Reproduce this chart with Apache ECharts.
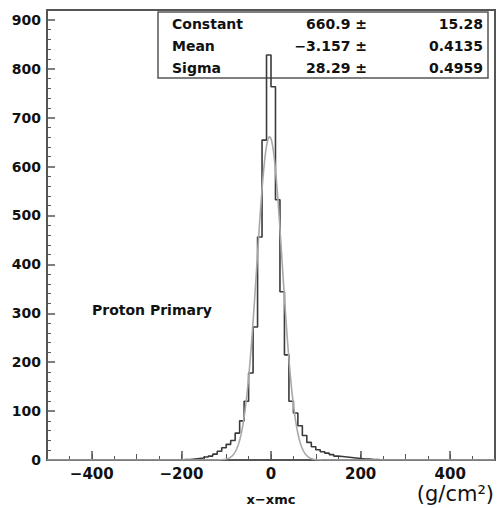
<!DOCTYPE html>
<html>
<head>
<meta charset="utf-8">
<script src="https://cdn.jsdelivr.net/npm/echarts@6/dist/echarts.min.js"></script>
<style>
  html, body { margin: 0; padding: 0; background: #ffffff; }
  #chart { width: 497px; height: 508px; }
</style>
</head>
<body>
<div id="chart"></div>
<script>
// Axis ranges and binning
const xMin = -500;
const xMax = 500;
const yMax = 920;
const binWidth = 10;

// Histogram contents, one count per 10-unit bin starting at histFirstEdge
const histFirstEdge = -200;
const histCounts = [
  1, 1, 2, 3, 4, 6, 8, 12, 18, 25,          // -200 .. -110
  32, 40, 55, 80, 120, 178, 272, 456, 654, 828, // -100 .. -10
  763, 532, 344, 215, 120, 96, 70, 50, 36, 27,  //    0 ..  90
  21, 17, 14, 11, 8, 7, 6, 5, 4, 3,             //  100 .. 190
  2, 2, 1, 1                                    //  200 .. 230
];

// Gaussian fit parameters and their errors
const statNames = ["Constant", "Mean", "Sigma"];
const statValues = [660.9, -3.157, 28.29];
const statErrors = ["15.28", "0.4135", "0.4959"];
const fitConstant = statValues[0];
const fitMean = statValues[1];
const fitSigma = statValues[2];

// Tick positions
const xMajorTicks = [-400, -200, 0, 200, 400];
const yMajorTicks = [0, 100, 200, 300, 400, 500, 600, 700, 800, 900];

const minus = v => (v < 0 ? "\u2212" + String(-v) : String(v));

// Step outline of the histogram over the full axis range
const histSteps = [];
for (let e = xMin; e < xMax; e += binWidth) {
  const i = Math.round((e - histFirstEdge) / binWidth);
  histSteps.push([e, i >= 0 && i < histCounts.length ? histCounts[i] : 0]);
}
histSteps.push([xMax, 0]);

// Fitted Gaussian
const fitCurve = [];
for (let x = xMin; x <= xMax; x += 1) {
  const z = (x - fitMean) / fitSigma;
  fitCurve.push([x, fitConstant * Math.exp(-0.5 * z * z)]);
}

// Minor y ticks every 20
const yMinorTicks = [];
for (let v = 0; v <= 900; v += 20) if (v % 100 !== 0) yMinorTicks.push(v);

const FONT = "DejaVu Sans";
const axisColor = "#555555";
const textColor = "#111111";

function plainX(interval, len) {
  return {
    type: "value", min: xMin, max: xMax, interval: interval,
    position: "bottom", offset: 0,
    axisLine: { show: false, onZero: false },
    axisTick: { show: true, inside: true, length: len, lineStyle: { color: axisColor, width: 1 } },
    axisLabel: { show: false },
    splitLine: { show: false }
  };
}

const chart = echarts.init(document.getElementById("chart"), null, { renderer: "svg" });

chart.setOption({
  animation: false,
  backgroundColor: "#ffffff",
  grid: {
    left: 47, right: 2, top: 10, bottom: 48,
    show: true, borderColor: axisColor, borderWidth: 2, backgroundColor: "transparent"
  },
  xAxis: [
    {
      type: "value", min: xMin, max: xMax,
      position: "bottom", offset: 0,
      axisLine: { show: true, onZero: false, lineStyle: { color: axisColor, width: 2 } },
      axisTick: { show: true, inside: true, length: 9, customValues: xMajorTicks,
                  lineStyle: { color: axisColor, width: 1.5 } },
      axisLabel: { show: true, customValues: xMajorTicks, formatter: minus, margin: 6,
                   fontFamily: FONT, fontWeight: "bold", fontSize: 15, color: textColor },
      splitLine: { show: false }
    },
    plainX(100, 6),
    plainX(50, 4)
  ],
  yAxis: [
    {
      type: "value", min: 0, max: yMax,
      position: "left", offset: 0,
      axisLine: { show: true, onZero: false, lineStyle: { color: axisColor, width: 2 } },
      axisTick: { show: true, inside: true, length: 8, customValues: yMajorTicks,
                  lineStyle: { color: axisColor, width: 1.5 } },
      axisLabel: { show: true, customValues: yMajorTicks, margin: 6,
                   fontFamily: FONT, fontWeight: "bold", fontSize: 14, color: textColor },
      splitLine: { show: false }
    },
    {
      type: "value", min: 0, max: yMax,
      position: "left", offset: 0,
      axisLine: { show: false, onZero: false },
      axisTick: { show: true, inside: true, length: 4, customValues: yMinorTicks,
                  lineStyle: { color: axisColor, width: 1 } },
      axisLabel: { show: false },
      splitLine: { show: false }
    }
  ],
  series: [
    {
      name: "histogram", type: "line", step: "end", data: histSteps,
      xAxisIndex: 0, yAxisIndex: 0,
      symbol: "none", clip: true,
      lineStyle: { color: "#3a3a3a", width: 1.6 },
      z: 3
    },
    {
      name: "gaus", type: "line", data: fitCurve,
      xAxisIndex: 0, yAxisIndex: 0,
      symbol: "none", smooth: false, clip: true,
      lineStyle: { color: "#a8a8a8", width: 1.6 },
      z: 4
    }
  ],
  graphic: [
    {
      type: "rect", z: 1,
      shape: { x: 158, y: 12, width: 330, height: 66 },
      style: { fill: "none", stroke: axisColor, lineWidth: 1.5 }
    },
    ...statNames.map((n, i) => ({
      type: "text", z: 10,
      style: { text: n, x: 172, y: 23.5 + i * 22, textAlign: "left", textVerticalAlign: "middle",
               font: "bold 14px '" + FONT + "'", fill: textColor }
    })),
    ...statValues.map((v, i) => ({
      type: "text", z: 10,
      style: { text: minus(v) + " \u00b1", x: 367, y: 23.5 + i * 22, textAlign: "right",
               textVerticalAlign: "middle", font: "bold 14px '" + FONT + "'", fill: textColor }
    })),
    ...statErrors.map((v, i) => ({
      type: "text", z: 10,
      style: { text: v, x: 483, y: 23.5 + i * 22, textAlign: "right", textVerticalAlign: "middle",
               font: "bold 14px '" + FONT + "'", fill: textColor }
    })),
    {
      type: "text", z: 10,
      style: { text: "Proton Primary", x: 92, y: 310, textAlign: "left", textVerticalAlign: "middle",
               font: "bold 14px '" + FONT + "'", fill: textColor }
    },
    {
      type: "text", z: 10,
      style: { text: "x\u2212xmc", x: 271, y: 499, textAlign: "center", textVerticalAlign: "middle",
               font: "bold 13px '" + FONT + "'", fill: textColor }
    },
    {
      type: "text", z: 10,
      style: { text: "(g/cm\u00b2)", x: 494, y: 494, textAlign: "right", textVerticalAlign: "middle",
               font: "21px '" + FONT + "'", fill: textColor }
    }
  ]
});
</script>
</body>
</html>
